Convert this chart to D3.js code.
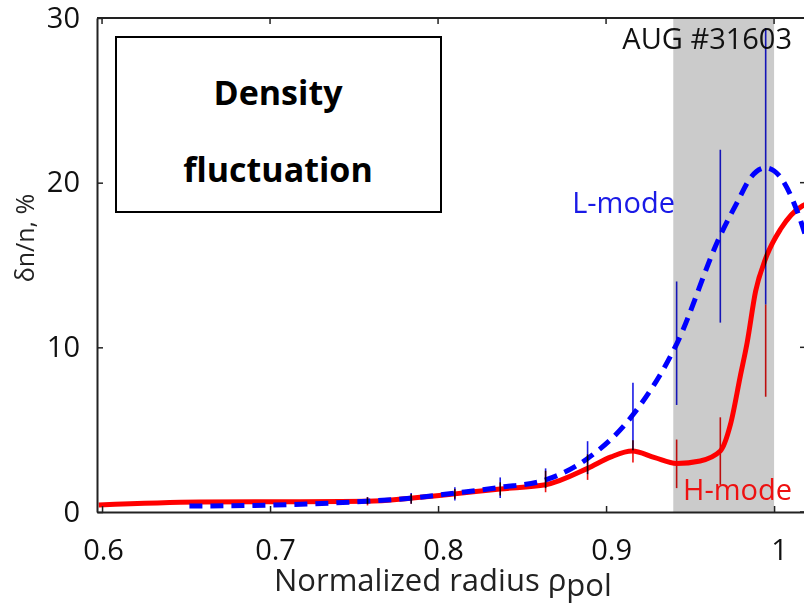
<!DOCTYPE html>
<html>
<head>
<meta charset="utf-8">
<script src="https://cdn.jsdelivr.net/npm/d3@7"></script>
<style>
  body { margin: 0; background: #fff; }
  text { font-family: "Open Sans", sans-serif; }
</style>
</head>
<body>
<div id="chart"></div>
<script>
// values
var xTicks = [0.6, 0.7, 0.8, 0.9, 1];
var yTicks = [0, 10, 20, 30];

var lmodeX = [0.652, 0.700, 0.748, 0.785, 0.810, 0.837, 0.864, 0.889, 0.916, 0.942, 0.968, 0.978, 0.986, 0.995, 1.004, 1.014, 1.019];
var lmodeY = [0.36, 0.42, 0.6, 0.85, 1.15, 1.5, 1.95, 3.25, 5.9, 10.2, 16.8, 18.8, 20.3, 20.9, 20.3, 18.2, 16.7];

var hmodeX = [0.598, 0.658, 0.718, 0.758, 0.785, 0.810, 0.837, 0.864, 0.889, 0.903, 0.9155, 0.929, 0.942, 0.956, 0.968, 0.974, 0.980, 0.984, 0.989, 0.995, 1.004, 1.017, 1.019];
var hmodeY = [0.42, 0.6, 0.63, 0.65, 0.85, 1.1, 1.4, 1.65, 2.65, 3.35, 3.7, 3.3, 2.95, 3.1, 3.7, 5.3, 8.3, 10.3, 13.4, 15.4, 17.2, 18.6, 18.7];

var barX = [0.758, 0.784, 0.810, 0.837, 0.864, 0.889, 0.916, 0.942, 0.968, 0.995];
var lmodeLo = [0.5, 0.5, 0.7, 0.85, 1.45, 2.3, 3.75, 6.5, 11.5, 12.6];
var lmodeHi = [0.9, 1.15, 1.5, 2.1, 2.65, 4.3, 7.85, 14.0, 22.0, 29.4];
var hmodeLo = [0.4, 0.5, 0.8, 1.0, 1.2, 1.95, 3.0, 1.45, 1.65, 7.0];
var hmodeHi = [0.9, 1.1, 1.4, 1.8, 2.5, 3.5, 4.35, 4.4, 5.75, 12.6];

var band = [0.94, 1.0];

var width = 804, height = 606;

var svg = d3.select("#chart").append("svg")
  .attr("width", width)
  .attr("height", height);

var x = d3.scaleLinear().domain([0.597, 1.019]).range([97, 806]);
var y = d3.scaleLinear().domain([0, 30]).range([512, 18]);

// shaded region
svg.append("rect")
  .attr("x", x(band[0]))
  .attr("y", y(30))
  .attr("width", x(band[1]) - x(band[0]))
  .attr("height", y(0) - y(30))
  .attr("fill", "#cbcbcb");

// top and right frame
svg.append("line")
  .attr("x1", x.range()[0]).attr("x2", x.range()[1])
  .attr("y1", y(30)).attr("y2", y(30))
  .attr("stroke", "#222").attr("stroke-width", 2);
svg.selectAll(".ttick").data(xTicks).enter().append("line")
  .attr("class", "ttick")
  .attr("x1", function(d){ return x(d); }).attr("x2", function(d){ return x(d); })
  .attr("y1", y(30)).attr("y2", y(30) + 6)
  .attr("stroke", "#222").attr("stroke-width", 1.5);
svg.append("line")
  .attr("x1", x(1.019)).attr("x2", x(1.019))
  .attr("y1", y(30)).attr("y2", y(0))
  .attr("stroke", "#222").attr("stroke-width", 2);
svg.selectAll(".rtick").data(yTicks).enter().append("line")
  .attr("class", "rtick")
  .attr("x1", x(1.019) - 6).attr("x2", x(1.019))
  .attr("y1", function(d){ return y(d); }).attr("y2", function(d){ return y(d); })
  .attr("stroke", "#222").attr("stroke-width", 1.5);

// curves
var lmode = lmodeX.map(function(d, i){ return [d, lmodeY[i]]; });
var hmode = hmodeX.map(function(d, i){ return [d, hmodeY[i]]; });

var line = d3.line()
  .x(function(d){ return x(d[0]); })
  .y(function(d){ return y(d[1]); })
  .curve(d3.curveMonotoneX);

svg.append("path")
  .datum(hmode)
  .attr("d", line)
  .attr("fill", "none")
  .attr("stroke", "#ff0000")
  .attr("stroke-width", 5);

svg.append("path")
  .datum(lmode)
  .attr("d", line)
  .attr("fill", "none")
  .attr("stroke", "#0000ff")
  .attr("stroke-width", 5)
  .attr("stroke-dasharray", "13,8");

// axes
var xAxis = d3.axisBottom(x).tickValues(xTicks)
  .tickFormat(d3.format(""))
  .tickSizeInner(-6).tickSizeOuter(0).tickPadding(27);
var gx = svg.append("g")
  .attr("transform", "translate(0," + y(0) + ")")
  .call(xAxis);
gx.select(".domain").attr("stroke", "#222").attr("stroke-width", 2);
gx.selectAll(".tick line").attr("stroke", "#222").attr("stroke-width", 1.5);
gx.selectAll(".tick text")
  .attr("dx", function(d){ return d < 0.65 ? 1 : 5; })
  .attr("fill", "#111")
  .style("font-size", "29px")
  .style("font-family", "'Open Sans', sans-serif");

var yAxis = d3.axisLeft(y).tickValues(yTicks)
  .tickSizeInner(-6).tickSizeOuter(0).tickPadding(17);
var gy = svg.append("g")
  .attr("transform", "translate(" + x(0.597) + ",0)")
  .call(yAxis);
gy.select(".domain").attr("stroke", "#222").attr("stroke-width", 2);
gy.selectAll(".tick line").attr("stroke", "#222").attr("stroke-width", 1.5);
gy.selectAll(".tick text")
  .attr("fill", "#111")
  .style("font-size", "29px")
  .style("font-family", "'Open Sans', sans-serif");

// axis titles
var xl = svg.append("text")
  .attr("x", 274)
  .attr("y", 591)
  .attr("fill", "#222")
  .style("font-size", "31px");
xl.append("tspan").text("Normalized radius \u03c1");
xl.append("tspan").attr("dy", 5).text("pol");

svg.append("text")
  .attr("transform", "translate(34,238) rotate(-90)")
  .attr("text-anchor", "middle")
  .attr("fill", "#222")
  .style("font-size", "25px")
  .text("\u03b4n/n, %");

// annotations
svg.append("text")
  .attr("x", x(1.0107))
  .attr("y", y(28.1))
  .attr("text-anchor", "end")
  .attr("fill", "#111")
  .style("font-size", "29px")
  .text("AUG #31603");

svg.append("text")
  .attr("x", x(0.8798))
  .attr("y", y(18.15))
  .attr("fill", "#1a1ae6")
  .style("font-size", "29px")
  .text("L-mode");

svg.append("text")
  .attr("x", x(0.9458))
  .attr("y", y(0.73))
  .attr("fill", "#ee1111")
  .style("font-size", "29px")
  .text("H-mode");

// error bars, drawn over labels so they cut through like the original
var bars = svg.append("g");
bars.selectAll(".hbar").data(barX).enter().append("line")
  .attr("class", "hbar")
  .attr("x1", function(d){ return x(d); }).attr("x2", function(d){ return x(d); })
  .attr("y1", function(d, i){ return y(hmodeLo[i]); })
  .attr("y2", function(d, i){ return y(hmodeHi[i]); })
  .attr("stroke", "#ee1111").attr("stroke-width", 1.6)
  .style("mix-blend-mode", "multiply");
bars.selectAll(".lbar").data(barX).enter().append("line")
  .attr("class", "lbar")
  .attr("x1", function(d){ return x(d); }).attr("x2", function(d){ return x(d); })
  .attr("y1", function(d, i){ return y(lmodeLo[i]); })
  .attr("y2", function(d, i){ return y(lmodeHi[i]); })
  .attr("stroke", "#1a1ae6").attr("stroke-width", 1.6)
  .style("mix-blend-mode", "multiply");

// title box
var box = svg.append("g");
box.append("rect")
  .attr("x", 116).attr("y", 37)
  .attr("width", 325).attr("height", 175)
  .attr("fill", "#fff")
  .attr("stroke", "#000")
  .attr("stroke-width", 2);
box.append("text")
  .attr("x", 278).attr("y", 105)
  .attr("text-anchor", "middle")
  .style("font-family", "'Open Sans', sans-serif")
  .style("font-weight", "bold")
  .style("font-size", "34px")
  .text("Density");
box.append("text")
  .attr("x", 278).attr("y", 182)
  .attr("text-anchor", "middle")
  .style("font-family", "'Open Sans', sans-serif")
  .style("font-weight", "bold")
  .style("font-size", "34px")
  .text("fluctuation");
</script>
</body>
</html>
